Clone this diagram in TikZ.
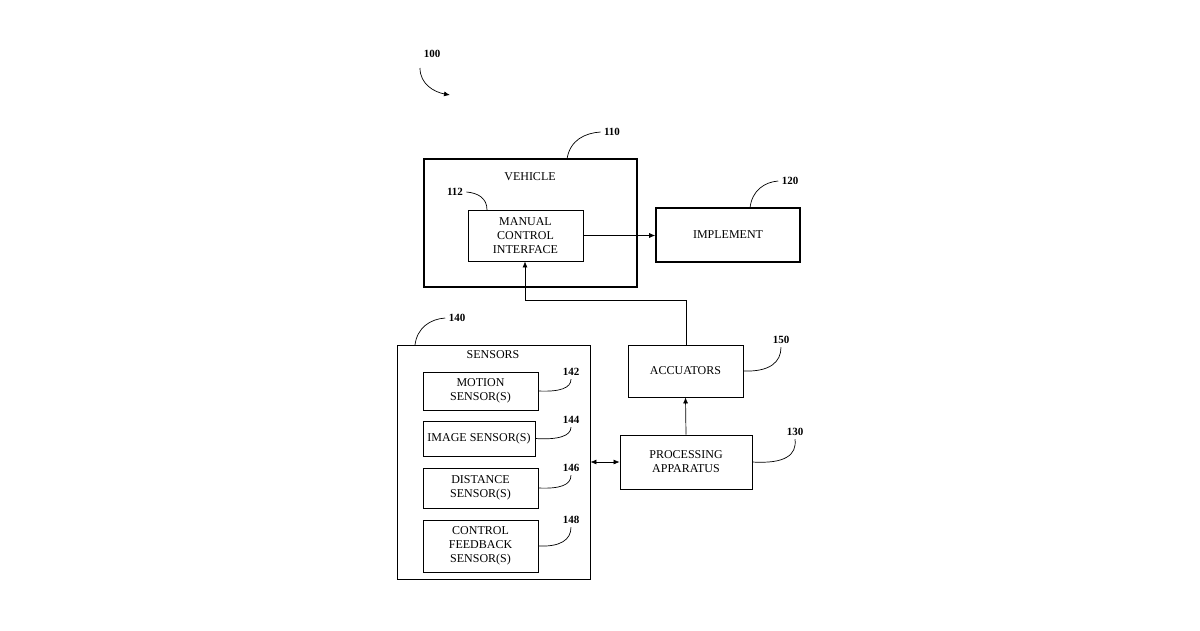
\documentclass[tikz,border=0pt]{standalone}
\usepackage{fontspec}
\setmainfont{Liberation Serif}
\usetikzlibrary{arrows.meta}
\begin{document}
\begin{tikzpicture}[x=1pt,y=-1pt,
  box/.style={draw,line width=0.8pt,inner sep=0pt},
  thick box/.style={draw,line width=1.6pt,inner sep=0pt},
  lbl/.style={font=\fontsize{12}{14}\selectfont,align=center},
  num/.style={font=\bfseries\fontsize{11}{13}\selectfont},
  lead/.style={line width=0.7pt},
  arr/.style={line width=0.7pt,-{Latex[length=6pt,width=5pt]}}]
\useasboundingbox (0,0) rectangle (1200,630);
\node[num] (n100) at (432,54) {100};
\coordinate (a100s) at (420,68);
\coordinate (a100e) at (450,95);
\draw[arr] (a100s) .. controls (420,84) and (434,92) .. (a100e);

\draw[thick box] (424,159) rectangle (637,287);
\node[lbl] (veh) at (530,177) {VEHICLE};
\node[num] (n110) at (612,132) {110};
\draw[lead] (567,159) .. controls (570,140) and (585,133) .. (n110.west);

\node[box,minimum width=115,minimum height=51,lbl] (mci) at (525.5,235.5) {MANUAL\\CONTROL\\INTERFACE};
\node[num] (n112) at (455,192) {112};
\draw[lead] (487,210) .. controls (487,198) and (478,193) .. (n112.east);

\node[thick box,minimum width=144,minimum height=54,lbl] (imp) at (728,235) {IMPLEMENT};
\node[num] (n120) at (790,181) {120};
\draw[lead] (750,208) .. controls (752,190) and (765,182) .. (n120.west);
\draw[arr] (mci.east) -- (mci.east -| imp.west);

\node[box,minimum width=115,minimum height=52,lbl] (acc) at (685.5,371) {ACCUATORS};
\node[num] (n150) at (781,340) {150};
\draw[lead] (acc.east) .. controls (770,372) and (781,362) .. (n150.south);

\node[box,minimum width=132,minimum height=54,lbl] (proc) at (686,462) {PROCESSING\\APPARATUS};
\node[num] (n130) at (795,432) {130};
\draw[lead] (proc.east) .. controls (785,464) and (797,455) .. (n130.south);

\coordinate (c1) at (686,300);
\coordinate (c2) at (525,300);
\draw[arr] (acc.north -| c1) -- (c1) -- (c2) -- (mci.south -| c2);
\draw[arr] (proc.north) -- (acc.south);

\node[box,minimum width=193,minimum height=234] (sen) at (493.5,462) {};
\node[lbl] (sent) at (493,355) {SENSORS};
\node[num] (n140) at (457,318) {140};
\draw[lead] (415,345) .. controls (417,328) and (430,319) .. (n140.west);
\draw[line width=0.7pt,{Latex[length=6pt,width=5pt]}-{Latex[length=6pt,width=5pt]}] (sen.east |- proc.west) -- (proc.west);

\node[box,minimum width=115,minimum height=38,lbl] (s1) at (480.5,391) {MOTION\\SENSOR(S)};
\node[box,minimum width=112,minimum height=35,lbl] (s2) at (479,438.5) {IMAGE SENSOR(S)};
\node[box,minimum width=115,minimum height=40,lbl] (s3) at (480.5,488) {DISTANCE\\SENSOR(S)};
\node[box,minimum width=115,minimum height=52,lbl] (s4) at (480.5,546) {CONTROL\\FEEDBACK\\SENSOR(S)};
\node[num] (n142) at (571,372) {142};
\node[num] (n144) at (571,420) {144};
\node[num] (n146) at (571,468) {146};
\node[num] (n148) at (571,520) {148};
\draw[lead] (s1.east) .. controls (560,392) and (571,388) .. (n142.south);
\draw[lead] (s2.east) .. controls (558,440) and (571,436) .. (n144.south);
\draw[lead] (s3.east) .. controls (560,489) and (571,485) .. (n146.south);
\draw[lead] (s4.east) .. controls (560,547) and (571,540) .. (n148.south);
\end{tikzpicture}
\end{document}
